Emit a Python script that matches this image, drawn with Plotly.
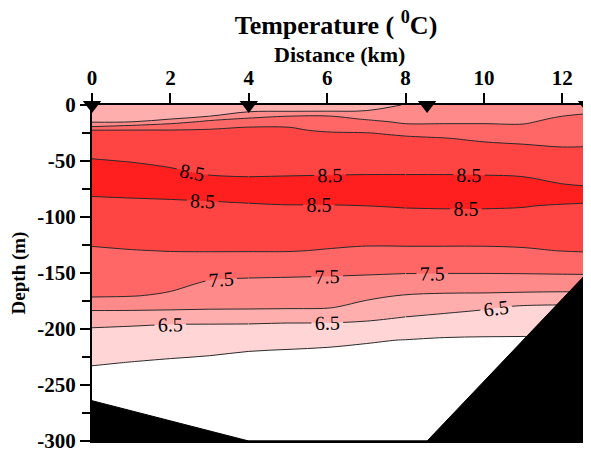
import plotly.graph_objects as go

# Section distance (km) of each profile column
distance_km = [0, 1, 2, 3, 4, 5, 6, 7, 8, 9, 10, 11, 12, 12.63]
# Depth of each grid row (m)
depth_m = [0, -5, -10, -12.5, -15, -17.5, -20, -22.5, -25, -30, -35, -40, -50, -60, -70, -80, -90,
           -100, -115, -130, -145, -160, -170, -180, -190, -200, -210, -220, -230, -240, -260, -300]
# Temperature (deg C), one row per depth, one column per distance
temperature = [
    [6.80, 6.80, 6.80, 6.80, 6.80, 6.80, 6.80, 6.85, 7.02, 7.20, 7.20, 7.20, 7.30, 7.35],
    [6.86, 6.86, 6.88, 6.90, 6.92, 6.93, 6.94, 7.00, 7.16, 7.29, 7.29, 7.29, 7.40, 7.45],
    [6.92, 6.93, 6.95, 7.00, 7.30, 7.50, 7.53, 7.31, 7.30, 7.38, 7.38, 7.38, 7.50, 7.54],
    [6.95, 6.96, 6.99, 7.36, 7.59, 7.63, 7.62, 7.47, 7.37, 7.42, 7.42, 7.42, 7.55, 7.58],
    [6.98, 6.99, 7.29, 7.61, 7.75, 7.76, 7.71, 7.59, 7.44, 7.46, 7.46, 7.46, 7.59, 7.63],
    [7.13, 7.40, 7.60, 7.79, 7.91, 7.89, 7.79, 7.70, 7.53, 7.52, 7.52, 7.51, 7.64, 7.67],
    [7.64, 7.75, 7.85, 7.96, 8.01, 8.01, 7.88, 7.80, 7.67, 7.63, 7.60, 7.58, 7.69, 7.71],
    [8.00, 8.01, 8.01, 8.02, 8.04, 8.03, 7.97, 7.91, 7.81, 7.74, 7.68, 7.65, 7.73, 7.75],
    [8.05, 8.05, 8.05, 8.05, 8.06, 8.06, 8.02, 8.01, 7.94, 7.85, 7.77, 7.72, 7.78, 7.80],
    [8.15, 8.14, 8.12, 8.11, 8.11, 8.11, 8.08, 8.07, 8.05, 8.02, 7.93, 7.86, 7.87, 7.88],
    [8.25, 8.22, 8.19, 8.16, 8.17, 8.17, 8.14, 8.13, 8.12, 8.10, 8.05, 8.00, 7.96, 7.97],
    [8.34, 8.31, 8.26, 8.22, 8.22, 8.22, 8.20, 8.20, 8.19, 8.17, 8.13, 8.08, 8.04, 8.04],
    [8.54, 8.48, 8.40, 8.33, 8.32, 8.33, 8.32, 8.33, 8.32, 8.32, 8.29, 8.25, 8.19, 8.17],
    [8.72, 8.67, 8.57, 8.44, 8.43, 8.44, 8.45, 8.46, 8.46, 8.46, 8.45, 8.42, 8.34, 8.30],
    [8.70, 8.73, 8.79, 8.67, 8.60, 8.62, 8.64, 8.65, 8.65, 8.65, 8.64, 8.62, 8.49, 8.43],
    [8.52, 8.54, 8.56, 8.60, 8.67, 8.71, 8.71, 8.73, 8.74, 8.74, 8.75, 8.75, 8.74, 8.73],
    [8.40, 8.41, 8.42, 8.43, 8.45, 8.48, 8.48, 8.50, 8.53, 8.54, 8.54, 8.52, 8.46, 8.43],
    [8.29, 8.31, 8.32, 8.33, 8.34, 8.36, 8.36, 8.36, 8.38, 8.39, 8.39, 8.38, 8.34, 8.33],
    [8.12, 8.15, 8.16, 8.17, 8.18, 8.19, 8.17, 8.16, 8.17, 8.17, 8.17, 8.18, 8.18, 8.18],
    [7.96, 7.99, 8.01, 8.02, 8.02, 8.02, 7.98, 7.94, 7.94, 7.94, 7.94, 7.96, 8.01, 8.03],
    [7.81, 7.82, 7.81, 7.73, 7.69, 7.67, 7.65, 7.64, 7.64, 7.64, 7.64, 7.65, 7.67, 7.68],
    [7.66, 7.65, 7.61, 7.43, 7.39, 7.38, 7.37, 7.33, 7.26, 7.25, 7.25, 7.25, 7.25, 7.25],
    [7.56, 7.53, 7.44, 7.27, 7.24, 7.23, 7.21, 7.11, 6.98, 6.94, 6.93, 6.90, 6.88, 6.88],
    [7.14, 7.15, 7.14, 7.10, 7.09, 7.08, 7.06, 6.86, 6.72, 6.67, 6.57, 6.46, 6.43, 6.43],
    [6.74, 6.71, 6.66, 6.67, 6.67, 6.64, 6.64, 6.58, 6.48, 6.39, 6.32, 6.27, 6.25, 6.25],
    [6.47, 6.43, 6.39, 6.37, 6.36, 6.34, 6.33, 6.31, 6.22, 6.13, 6.09, 6.08, 6.07, 6.07],
    [6.33, 6.28, 6.24, 6.21, 6.18, 6.14, 6.09, 6.03, 5.99, 5.96, 5.96, 5.96, 5.96, 5.96],
    [6.19, 6.14, 6.09, 6.05, 6.00, 5.97, 5.95, 5.93, 5.91, 5.89, 5.89, 5.89, 5.89, 5.89],
    [6.04, 5.99, 5.95, 5.92, 5.90, 5.88, 5.86, 5.84, 5.84, 5.82, 5.81, 5.81, 5.81, 5.81],
    [5.90, 5.86, 5.84, 5.82, 5.80, 5.79, 5.77, 5.76, 5.76, 5.75, 5.74, 5.74, 5.74, 5.74],
    [5.60, 5.60, 5.60, 5.60, 5.60, 5.60, 5.60, 5.60, 5.60, 5.60, 5.60, 5.60, 5.60, 5.60],
    [5.20, 5.20, 5.20, 5.20, 5.20, 5.20, 5.20, 5.20, 5.20, 5.20, 5.20, 5.20, 5.20, 5.20],
]
# Sea floor (bathymetry)
bottom_km = [0, 4, 8.55, 12.63]
bottom_depth = [-264, -300, -300, -150]
# CTD stations
station_km = [0, 4, 8.55, 12.63]

x_ticks = [0, 2, 4, 6, 8, 10, 12]
y_ticks = [0, -50, -100, -150, -200, -250, -300]
y_minor = [-25, -75, -125, -175, -225, -275]
band_colors = ['#ffffff', '#ffd5d5', '#ffaeae', '#ff8a8a', '#ff6666', '#ff4444', '#ff1f1f']

SERIF = 'Liberation Serif'
LINE = dict(width=1, color='#2a2a2a')
colorscale = [[i / (len(band_colors) - 1), c] for i, c in enumerate(band_colors)]

fig = go.Figure()
# filled bands
fig.add_trace(go.Contour(x=distance_km, y=depth_m, z=temperature, colorscale=colorscale, showscale=False,
                         contours=dict(start=6, end=8.5, size=0.5, coloring='fill'),
                         line=dict(width=0), hoverinfo='skip'))
# unlabelled whole-degree isotherms
fig.add_trace(go.Contour(x=distance_km, y=depth_m, z=temperature, showscale=False,
                         contours=dict(start=6, end=8, size=1, coloring='none'),
                         line=LINE, hoverinfo='skip'))
# near-surface 7.5 isotherm (unlabelled): rows 0 .. -40 m
r_top = 12
fig.add_trace(go.Contour(x=distance_km, y=depth_m[:r_top], z=temperature[:r_top], showscale=False,
                         contours=dict(start=7.5, end=7.5, size=1, coloring='none'),
                         line=LINE, hoverinfo='skip'))
# labelled half-degree isotherms, drawn in pieces (along the section, and above / below
# the warm core) so that every isotherm piece carries its own label.
# (first column, last column, first row, last row); the split rows lie inside the > 8.5 core
pieces = [(0, 4, r_top - 1, 15), (4, 8, r_top - 1, 15), (8, 13, r_top - 1, 15),
          (0, 4, 14, len(depth_m) - 1), (4, 8, 14, len(depth_m) - 1), (8, 13, 15, len(depth_m) - 1)]
for xa, xb, ya, yb in pieces:
    fig.add_trace(go.Contour(x=distance_km[xa:xb + 1], y=depth_m[ya:yb + 1],
                             z=[row[xa:xb + 1] for row in temperature[ya:yb + 1]], showscale=False,
                             contours=dict(start=6.5, end=8.5, size=1, coloring='none', showlabels=True,
                                           labelfont=dict(family=SERIF, size=20, color='black')),
                             line=LINE, hoverinfo='skip'))
y_floor = min(y_ticks)
fig.add_trace(go.Scatter(x=bottom_km + [bottom_km[-1], bottom_km[0]],
                         y=bottom_depth + [y_floor, y_floor], fill='toself', fillcolor='black',
                         mode='lines', line=dict(color='black', width=1), hoverinfo='skip'))
fig.add_trace(go.Scatter(x=station_km, y=[0] * len(station_km), mode='markers', cliponaxis=False,
                         marker=dict(symbol='triangle-down', size=16, color='black'), hoverinfo='skip'))

fig.update_layout(width=583, height=446, margin=dict(l=84, r=4, t=97, b=13),
                  plot_bgcolor='white', paper_bgcolor='white', showlegend=False,
                  font=dict(family=SERIF, size=21, color='black'),
                  title=dict(text='<b>Temperature ( <sup>0</sup>C)</b>', x=0.5626, xanchor='center',
                             yref='container', y=0.963, yanchor='middle',
                             font=dict(family=SERIF, size=26)),
                  annotations=[dict(text='<b>Distance (km)</b>', xref='paper', x=0.5, yref='paper', y=1,
                                    yshift=51, yanchor='middle', showarrow=False,
                                    font=dict(family=SERIF, size=22, color='black'))])
fig.update_xaxes(side='top', range=[0, 12.63], tickvals=x_ticks,
                 ticktext=['<b>%d</b>' % v for v in x_ticks],
                 ticks='outside', ticklen=10, tickwidth=1.5, tickcolor='black',
                 showline=True, linewidth=2, linecolor='black',
                 mirror=True, showgrid=False, zeroline=False, automargin=False)
fig.update_yaxes(range=[-300, 0], tickvals=y_ticks,
                 ticktext=['<b>%d</b>' % v for v in y_ticks],
                 ticks='outside', ticklen=10, tickwidth=1.5, tickcolor='black',
                 showline=True, linewidth=2, linecolor='black',
                 mirror=True, showgrid=False, zeroline=False, automargin=False,
                 minor=dict(tickvals=y_minor, ticks='outside', ticklen=8, tickcolor='black', tickwidth=1.5),
                 title=dict(text='<b>Depth (m)</b>', standoff=10, font=dict(size=19)))
fig.write_html('out.html')
